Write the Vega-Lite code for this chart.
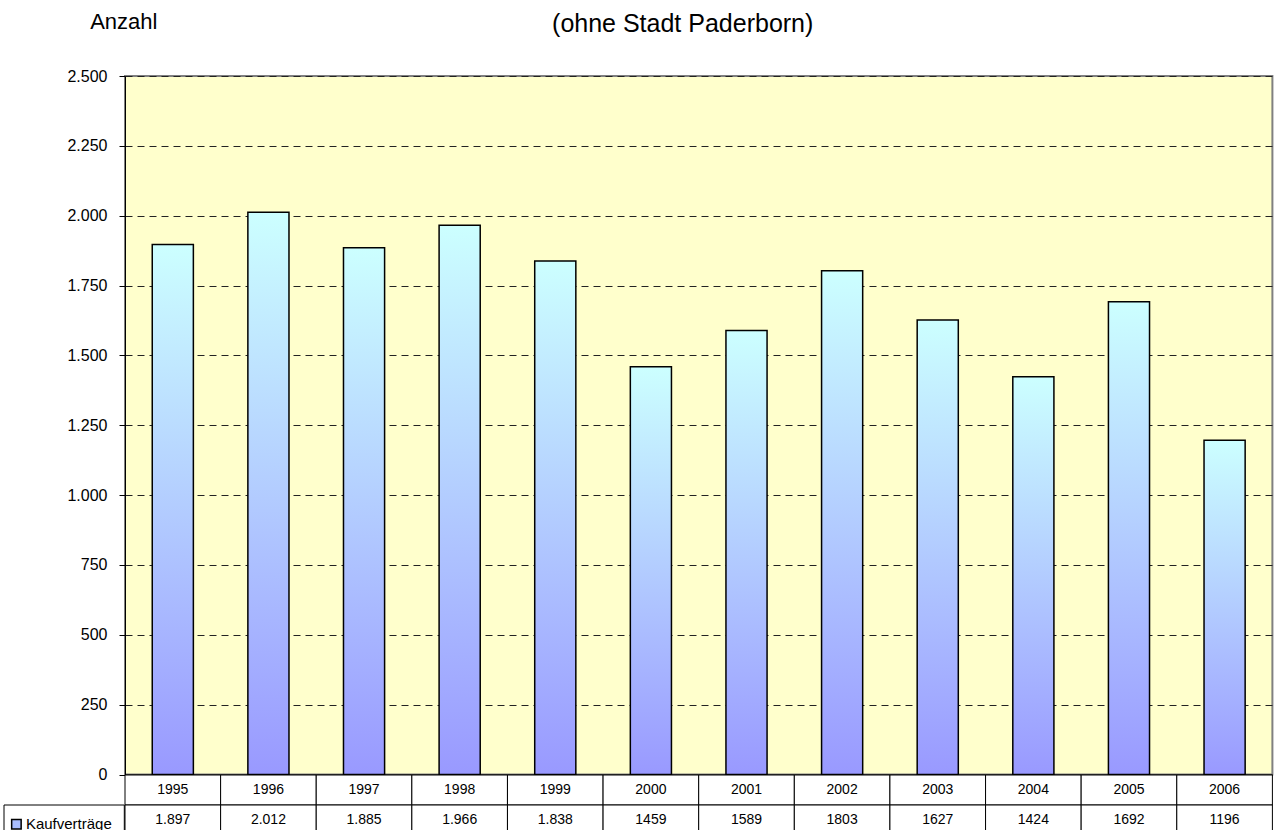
{
  "$schema": "https://vega.github.io/schema/vega-lite/v6.json",
  "padding": {"left": 3, "top": 9, "right": 0, "bottom": 0},
  "background": "white",
  "config": {
    "font": "Liberation Sans",
    "view": {"stroke": null},
    "text": {"font": "Liberation Sans"},
    "axis": {"labelFont": "Liberation Sans", "titleFont": "Liberation Sans"},
    "legend": {"labelFont": "Liberation Sans"},
    "title": {"font": "Liberation Sans"}
  },
  "datasets": {
    "k": [
      {"year": "1995", "n": 1897, "shown": "1.897", "series": "Kaufverträge"},
      {"year": "1996", "n": 2012, "shown": "2.012", "series": "Kaufverträge"},
      {"year": "1997", "n": 1885, "shown": "1.885", "series": "Kaufverträge"},
      {"year": "1998", "n": 1966, "shown": "1.966", "series": "Kaufverträge"},
      {"year": "1999", "n": 1838, "shown": "1.838", "series": "Kaufverträge"},
      {"year": "2000", "n": 1459, "shown": "1459", "series": "Kaufverträge"},
      {"year": "2001", "n": 1589, "shown": "1589", "series": "Kaufverträge"},
      {"year": "2002", "n": 1803, "shown": "1803", "series": "Kaufverträge"},
      {"year": "2003", "n": 1627, "shown": "1627", "series": "Kaufverträge"},
      {"year": "2004", "n": 1424, "shown": "1424", "series": "Kaufverträge"},
      {"year": "2005", "n": 1692, "shown": "1692", "series": "Kaufverträge"},
      {"year": "2006", "n": 1196, "shown": "1196", "series": "Kaufverträge"}
    ]
  },
  "columns": 2,
  "spacing": 0,
  "bounds": "flush",
  "concat": [
    {
      "width": 120.3,
      "height": 698.5,
      "data": {"values": [{}]},
      "mark": {"type": "text"},
      "encoding": {"text": {"value": ""}}
    },
    {
      "width": 1147.4,
      "height": 698.5,
      "data": {"name": "k"},
      "view": {"fill": "#FFFFCC", "stroke": "#808080", "strokeWidth": 2},
      "title": {
        "text": "(ohne Stadt Paderborn)",
        "fontSize": 25,
        "fontWeight": "normal",
        "color": "black",
        "anchor": "middle",
        "frame": "group",
        "dx": -16,
        "offset": -26
      },
      "mark": {
        "type": "bar",
        "width": {"band": 0.43},
        "fill": {
          "gradient": "linear",
          "x1": 0, "y1": 0, "x2": 0, "y2": 1,
          "stops": [
            {"offset": 0, "color": "#CCFFFF"},
            {"offset": 1, "color": "#9999FF"}
          ]
        },
        "stroke": "black",
        "strokeWidth": 1.5
      },
      "encoding": {
        "x": {
          "field": "year",
          "type": "ordinal",
          "scale": {"paddingInner": 0, "paddingOuter": 0},
          "axis": {"labels": false, "ticks": false, "title": null, "domainColor": "black", "domainWidth": 1}
        },
        "y": {
          "field": "n",
          "type": "quantitative",
          "scale": {"domain": [0, 2500], "nice": false},
          "axis": {
            "values": [0, 250, 500, 750, 1000, 1250, 1500, 1750, 2000, 2250, 2500],
            "labelExpr": "replace(format(datum.value, ','), ',', '.')",
            "title": "Anzahl",
            "titleAngle": 0,
            "titleAlign": "left",
            "titleBaseline": "alphabetic",
            "titleX": -35.3,
            "titleY": -47.4,
            "titleFontSize": 22,
            "titleFontWeight": "normal",
            "titleColor": "black",
            "grid": true,
            "gridDash": [7, 5],
            "gridColor": "#222222",
            "gridWidth": 1,
            "domainColor": "black",
            "domainWidth": 1,
            "tickColor": "black",
            "tickSize": 6,
            "labelFontSize": 16,
            "labelPadding": 12,
            "labelColor": "black"
          }
        }
      }
    },
    {
      "width": 120.3,
      "height": 60,
      "data": {"values": [{"series": "Kaufverträge"}]},
      "layer": [
        {
          "mark": {"type": "rect", "fill": "white", "stroke": "black", "strokeWidth": 1},
          "encoding": {
            "y": {
              "datum": "Kaufverträge",
              "type": "ordinal",
              "scale": {"domain": ["Jahr", "Kaufverträge"], "paddingInner": 0, "paddingOuter": 0},
              "axis": null
            }
          }
        },
        {
          "mark": {"type": "point", "shape": "square", "filled": true, "opacity": 0, "size": 90, "stroke": "black", "strokeWidth": 1.5},
          "encoding": {
            "color": {
              "field": "series",
              "type": "nominal",
              "scale": {"range": ["#A9BDFF"]},
              "legend": {
                "orient": "none",
                "legendX": 4.9,
                "legendY": 740.7,
                "title": null,
                "padding": 0,
                "symbolType": "square",
                "symbolSize": 90,
                "symbolOpacity": 1,
                "symbolStrokeColor": "black",
                "symbolStrokeWidth": 1.5,
                "labelFontSize": 15,
                "labelColor": "black",
                "labelOffset": 2
              }
            }
          }
        }
      ]
    },
    {
      "width": 1147.4,
      "height": 60,
      "data": {"name": "k"},
      "encoding": {
        "x": {
          "field": "year",
          "type": "ordinal",
          "scale": {"paddingInner": 0, "paddingOuter": 0},
          "axis": null
        }
      },
      "layer": [
        {
          "mark": {"type": "rect", "fill": "white", "stroke": "black", "strokeWidth": 1},
          "encoding": {
            "y": {
              "datum": "Jahr",
              "type": "ordinal",
              "scale": {"domain": ["Jahr", "Kaufverträge"], "paddingInner": 0, "paddingOuter": 0},
              "axis": null
            }
          }
        },
        {
          "mark": {"type": "rect", "fill": "white", "stroke": "black", "strokeWidth": 1},
          "encoding": {"y": {"datum": "Kaufverträge", "type": "ordinal"}}
        },
        {
          "mark": {"type": "text", "fontSize": 14, "baseline": "middle", "color": "black"},
          "encoding": {"y": {"datum": "Jahr", "type": "ordinal"}, "text": {"field": "year"}}
        },
        {
          "mark": {"type": "text", "fontSize": 14, "baseline": "middle", "color": "black"},
          "encoding": {"y": {"datum": "Kaufverträge", "type": "ordinal"}, "text": {"field": "shown"}}
        }
      ]
    }
  ]
}
